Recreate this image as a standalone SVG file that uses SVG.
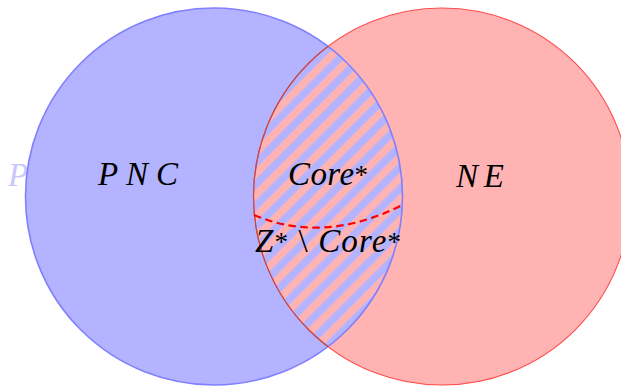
<svg xmlns="http://www.w3.org/2000/svg" width="621" height="388" viewBox="0 0 621 388">
  <style>
    .lbl { font-family: "Liberation Serif", "DejaVu Serif", serif; font-style: italic; font-size: 33px; fill: #000; }
    .sup { font-size: 27px; font-style: normal; }
    .up { font-style: normal; }
    .ghost { fill: #c8c8ff; }
  </style>
  <defs>
    <!-- diagonal two-colour hatching for the overlap -->
    <pattern id="stripes" width="15" height="15" patternUnits="userSpaceOnUse" patternTransform="rotate(45)">
      <rect width="15" height="15" fill="#b3b3ff"/>
      <rect width="7.5" height="15" fill="#ffb3b3"/>
    </pattern>
    <clipPath id="inBlue">
      <circle cx="214" cy="196.5" r="188.5"/>
    </clipPath>
  </defs>

  <rect width="621" height="388" fill="#fff"/>

  <!-- faint label partly hidden behind the blue set -->
  <text class="lbl ghost" x="8" y="186">P</text>

  <g id="pnc">
    <circle cx="214" cy="196.5" r="188.5" fill="#b3b3ff"/>
  </g>

  <g id="ne">
    <circle cx="442" cy="196.5" r="188.5" fill="#ffb3b3"/>
  </g>

  <g id="core">
    <circle cx="442" cy="196.5" r="188.5" fill="url(#stripes)" clip-path="url(#inBlue)"/>
  </g>

  <!-- outlines -->
  <g id="outlines" fill="none">
    <circle cx="214" cy="196.5" r="188.5" stroke="#8080ff" stroke-width="1.6"/>
    <circle cx="442" cy="196.5" r="188.5" stroke="#ff4d4d" stroke-width="1.1"/>
    <circle cx="442" cy="196.5" r="188.5" stroke="#c04848" stroke-width="1.2" clip-path="url(#inBlue)"/>
  </g>

  <!-- boundary between Core* and the rest of Z* -->
  <g id="connectors">
    <path d="M254,215 Q325,245 404,204" fill="none" stroke="#ff0000" stroke-width="2.2" stroke-dasharray="7.5 4.5"/>
  </g>

  <g id="labels">
    <text class="lbl" x="98" y="185" textLength="80" lengthAdjust="spacing">PNC</text>
    <text class="lbl" x="456" y="187" textLength="48" lengthAdjust="spacing">NE</text>
    <text class="lbl" x="288" y="185" textLength="80" lengthAdjust="spacing">Core<tspan class="sup" dy="-1">*</tspan></text>
    <text class="lbl" x="255" y="252" textLength="146" lengthAdjust="spacing">Z<tspan class="sup" dy="-1">*</tspan><tspan class="up" dy="1"> \ </tspan>Core<tspan class="sup" dy="-1">*</tspan></text>
  </g>
</svg>
